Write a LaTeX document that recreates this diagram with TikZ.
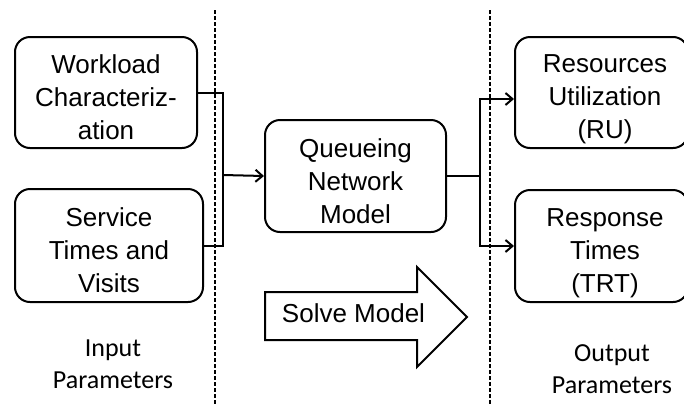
\documentclass[tikz,border=0pt]{standalone}
\usepackage{fontspec}
\setmainfont{Liberation Sans}
\newfontfamily\labfont{Carlito}
\usetikzlibrary{arrows.meta}
\begin{document}
\begin{tikzpicture}[x=1pt,y=-1pt,
  box/.style={draw=black,line width=2pt,rounded corners=15pt,inner sep=0pt},
  btext/.style={align=center,font=\fontsize{26}{33}\selectfont,inner sep=0pt},
  lab/.style={align=center,font=\labfont\fontsize{26}{32}\selectfont,inner sep=0pt},
  conn/.style={line width=2pt},
  arr/.style={conn,-{Straight Barb[length=7pt,width=12pt]}},
  sep/.style={line width=1.6pt,dash pattern=on 4pt off 2pt}]
\useasboundingbox (0,0) rectangle (684,405);
\clip (0,0) rectangle (684,405);

% separators
\draw[sep] (215,10) -- (215,405);
\draw[sep] (490,10) -- (490,405);

% boxes
\node[box,minimum width=182pt,minimum height=111pt] (wc) at (106,92.5) {};
\node[box,minimum width=188pt,minimum height=113pt] (st) at (109,245.5) {};
\node[box,minimum width=181pt,minimum height=112pt] (qn) at (355.5,176) {};
\node[box,minimum width=173pt,minimum height=111pt] (ru) at (601.5,92.5) {};
\node[box,minimum width=173pt,minimum height=112pt] (rt) at (601.5,246) {};

% box texts
\node[btext] (wct) at (106,97.5) {Workload\\Characteriz-\\ation};
\node[btext] (stt) at (109,250.5) {Service\\Times and\\Visits};
\node[btext] (qnt) at (355.5,181) {Queueing\\Network\\Model};
\node[btext] (rut) at (605,99.5) {Resources\\Utilization\\(RU)};
\node[btext] (rtt) at (605,253) {Response\\Times\\(TRT)};

% connectors
\coordinate (jl) at (223,175);
\coordinate (jr) at (480,176);
\draw[conn] (wc.east) -| (jl);
\draw[conn] (st.east) -| (jl);
\draw[arr] (jl) -- (qn.west);
\draw[conn] (qn.east) -- (jr);
\draw[arr] (jr) |- ([yshift=-6.5pt]ru.west);
\draw[arr] (jr) |- (rt.west);

% solve model arrow
\draw[line width=2pt,miter limit=10] (265,292) -- (417,292) -- (417,267) -- (467,317) -- (417,367) -- (417,340) -- (265,340) -- cycle;
\node[font=\fontsize{26}{33}\selectfont,inner sep=0pt,anchor=base] (solve) at (353.5,322) {Solve Model};

% labels
\node[lab] (inp) at (113,364.6) {Input\\Parameters};
\node[lab] (outp) at (612,369) {Output\\Parameters};
\end{tikzpicture}
\end{document}
